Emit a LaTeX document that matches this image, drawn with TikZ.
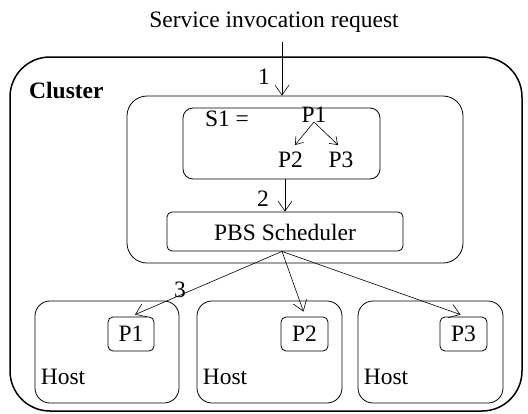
\documentclass[tikz,border=0pt]{standalone}
\usepackage{fontspec}
\setmainfont{Liberation Serif}
\usetikzlibrary{arrows.meta}
\tikzset{
  lbl/.style={inner sep=0pt, font=\fontsize{23.5}{27}\selectfont},
  box/.style={draw, line width=0.8pt, rounded corners=#1, inner sep=0pt},
  box/.default=10pt,
  arr/.style={line width=0.6pt, -{Straight Barb[length=10pt,width=14pt,line width=0.6pt]}},
  smallarr/.style={line width=0.6pt, -{Straight Barb[length=7pt,width=10pt,line width=0.6pt]}},
}
\begin{document}
\begin{tikzpicture}[x=1pt,y=-1pt]
\useasboundingbox (0,0) rectangle (528,413);

% cluster and its service part
\node[box=40pt, line width=1.5pt, minimum width=512pt, minimum height=354pt] (cluster) at (266,234) {};
\node[lbl, font=\fontsize{23.5}{27}\selectfont\bfseries, anchor=west] (clusterlbl) at (29,90) {Cluster};
\node[box=20pt, minimum width=336pt, minimum height=167pt] (inner) at (295,179.5) {};
\node[box=10pt, minimum width=197pt, minimum height=71pt] (s1box) at (281.5,143.5) {};
\node[box=5pt, minimum width=236pt, minimum height=39pt] (pbs) at (285,231.5) {};
\node[lbl] (pbslbl) at (285,232) {PBS Scheduler};

% workflow S1
\node[lbl] (s1lbl) at (227,119) {S1 =};
\node[lbl] (p1t) at (314,114.5) {P1};
\node[lbl] (p2t) at (290.5,160) {P2};
\node[lbl] (p3t) at (341,160) {P3};
\coordinate (fork) at (314,122);
\coordinate (p2tip) at (295,145);
\coordinate (p3tip) at (338,145);
\draw[smallarr] (fork) -- (p2tip);
\draw[smallarr] (fork) -- (p3tip);

% request
\node[lbl] (req) at (274,22.5) {Service invocation request};
\coordinate (reqstart) at (282,42);
\draw[arr] (reqstart) -- (reqstart |- inner.north);
\node[lbl] (n1) at (264,77) {1};

% to scheduler
\draw[arr] (pbs.north |- s1box.south) -- (pbs.north);
\node[lbl] (n2) at (263,199) {2};

% hosts
\foreach \i/\x/\w/\px/\pw in {1/107/144/131/46, 2/269.5/145/304.5/47, 3/430.5/145/463.5/47} {
  \node[box=15pt, minimum width=\w pt, minimum height=102pt] (host\i) at (\x,352) {};
  \node[lbl, anchor=west] (hostlbl\i) at ([xshift=6pt]host\i.west |- 0,377) {Host};
  \node[box=5pt, minimum width=\pw pt, minimum height=34pt] (p\i) at (\px,334) {};
  \node[lbl] (p\i lbl) at (\px,334) {P\i};
}
\coordinate (pbsout) at ([xshift=-3pt]pbs.south);
\draw[arr] (pbsout) -- ([xshift=4pt,yshift=2pt]p1.north);
\draw[arr] (pbsout) -- ([xshift=-1pt,yshift=5pt]p2.north);
\draw[arr] (pbsout) -- ([xshift=-3pt,yshift=2pt]p3.north);
\node[lbl] (n3) at (180,290) {3};
\end{tikzpicture}
\end{document}
